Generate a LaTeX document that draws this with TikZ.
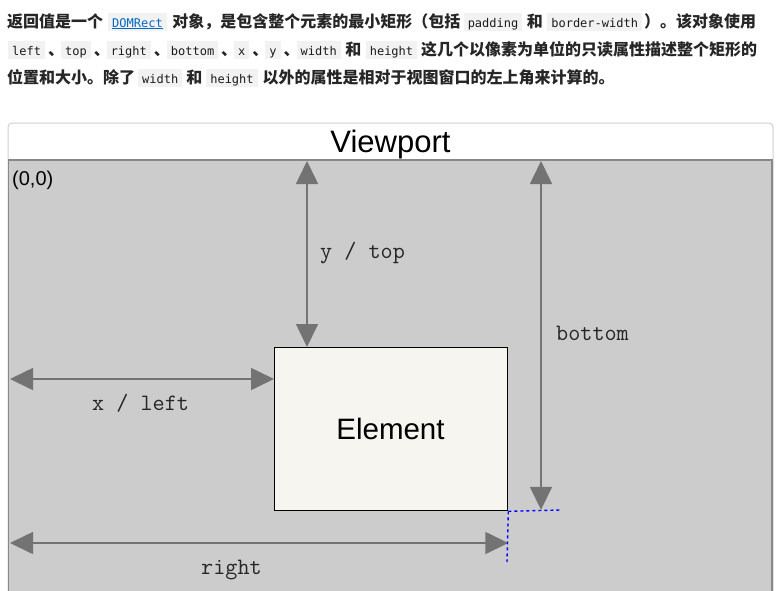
\documentclass[tikz,border=0pt]{standalone}
\usepackage{fontspec}
\setmainfont{Liberation Sans}
\newfontfamily\cjk{Noto Sans CJK SC}
\newfontfamily\codefont{DejaVu Sans Mono}
\usetikzlibrary{arrows.meta,calc}
\definecolor{codebg}{RGB}{242,242,242}
\definecolor{codefg}{RGB}{27,27,27}
\definecolor{linkc}{RGB}{0,105,194}
\definecolor{vpgray}{RGB}{204,204,204}
\definecolor{vpborder}{RGB}{136,136,136}
\definecolor{panelborder}{RGB}{208,208,208}
\definecolor{dimgray}{RGB}{115,115,115}
\definecolor{elfill}{RGB}{247,245,240}
\newcommand\cbox[1]{{\setlength{\fboxsep}{0pt}\colorbox{codebg}{\rule[-3.5pt]{0pt}{18pt}\hspace{4pt}{\codefont\mdseries\fontsize{12pt}{14pt}\selectfont\color{codefg}#1}\hspace{4pt}}}}
\newcommand\lbox[1]{{\setlength{\fboxsep}{0pt}\colorbox{codebg}{\rule[-3.5pt]{0pt}{18pt}\hspace{4pt}{\codefont\mdseries\fontsize{12pt}{14pt}\selectfont\color{linkc}\underline{#1}}\hspace{4pt}}}}
\newcommand\gap[1]{\hspace{#1pt}}
\newcommand\sep{\hspace{3pt}、\hspace{-3pt}}
\tikzset{
  para/.style={anchor=base west, inner sep=0pt, font=\cjk\bfseries\fontsize{16pt}{20pt}\selectfont, text=black!85},
  dim/.style={draw=dimgray, line width=1.6pt, {Triangle[length=23pt,width=22pt]}-{Triangle[length=23pt,width=22pt]}},
  dimlabel/.style={anchor=base west, inner sep=0pt, font=\ttfamily\fontsize{23.5pt}{26pt}\selectfont, text=black!85},
  guide/.style={draw=blue, line width=1.4pt, dash pattern=on 3pt off 3pt},
}
\begin{document}
\begin{tikzpicture}[x=1pt,y=-1pt]
\useasboundingbox (0,0) rectangle (776,590);
\fill[white] (0,0) rectangle (776,590);
% paragraph
\node[para] (l1) at (7,27) {返回值是一个\gap{5}\lbox{DOMRect}\gap{5.5}对象，是包含整个元素的最小矩形（包括\gap{3.5}\cbox{padding}\gap{4.5}和\gap{4.5}\cbox{border-width}\gap{2}）。该对象使用};
\node[para] (l2) at (8,55) {\cbox{left}\sep\cbox{top}\sep\cbox{right}\sep\cbox{bottom}\sep\cbox{x}\sep\cbox{y}\sep\cbox{width}\gap{4.5}和\gap{4.5}\cbox{height}\gap{4}这几个以像素为单位的只读属性描述整个矩形的};
\node[para] (l3) at (7,83) {位置和大小。除了\gap{3}\cbox{width}\gap{4}和\gap{4}\cbox{height}\gap{5}以外的属性是相对于视图窗口的左上角来计算的。};
% panel
\draw[panelborder, line width=1pt, fill=white, rounded corners=4pt] (8,123) rectangle (773,620);
\node[anchor=base, inner sep=0pt, font=\fontsize{31pt}{34pt}\selectfont] (vptitle) at (390.5,152.5) {Viewport};
\draw[vpborder, line width=1.5pt, fill=vpgray] (8.5,160) rectangle (772,620);
\node[anchor=base west, inner sep=0pt, font=\fontsize{20pt}{22pt}\selectfont] (origin) at (12,185) {(0,0)};
% element
\node[draw=black, line width=1.3pt, fill=elfill, minimum width=233pt, minimum height=163pt, inner sep=0pt, anchor=north west] (el) at (274,347) {};
\node[anchor=base, inner sep=0pt, font=\fontsize{29.5pt}{32pt}\selectfont] (eltext) at (390.5,439) {Element};
% dimension arrows
\coordinate (yt) at (307,161);
\coordinate (bt) at (541,161);
\coordinate (xl) at (10,379);
\coordinate (rt) at (10,543);
\draw[dim] (yt) -- (yt |- el.north);
\draw[dim] (bt) -- ($(bt |- el.south)+(0,-1.5)$);
\draw[dim] (xl) -- (xl -| el.west);
\draw[dim] (rt) -- (rt -| el.east);
% labels
\node[dimlabel] (ytl) at (320,258) {y / top};
\node[dimlabel] (btl) at (556,340) {bottom};
\node[dimlabel] (xll) at (92,410) {x / left};
\node[dimlabel] (rtl) at (201,574) {right};
% guides
\coordinate (gh) at (560,510);
\coordinate (gv) at (507,562);
\draw[guide] (el.south east) -- (gh);
\draw[guide] (el.south east) -- (gv);
\end{tikzpicture}
\end{document}
